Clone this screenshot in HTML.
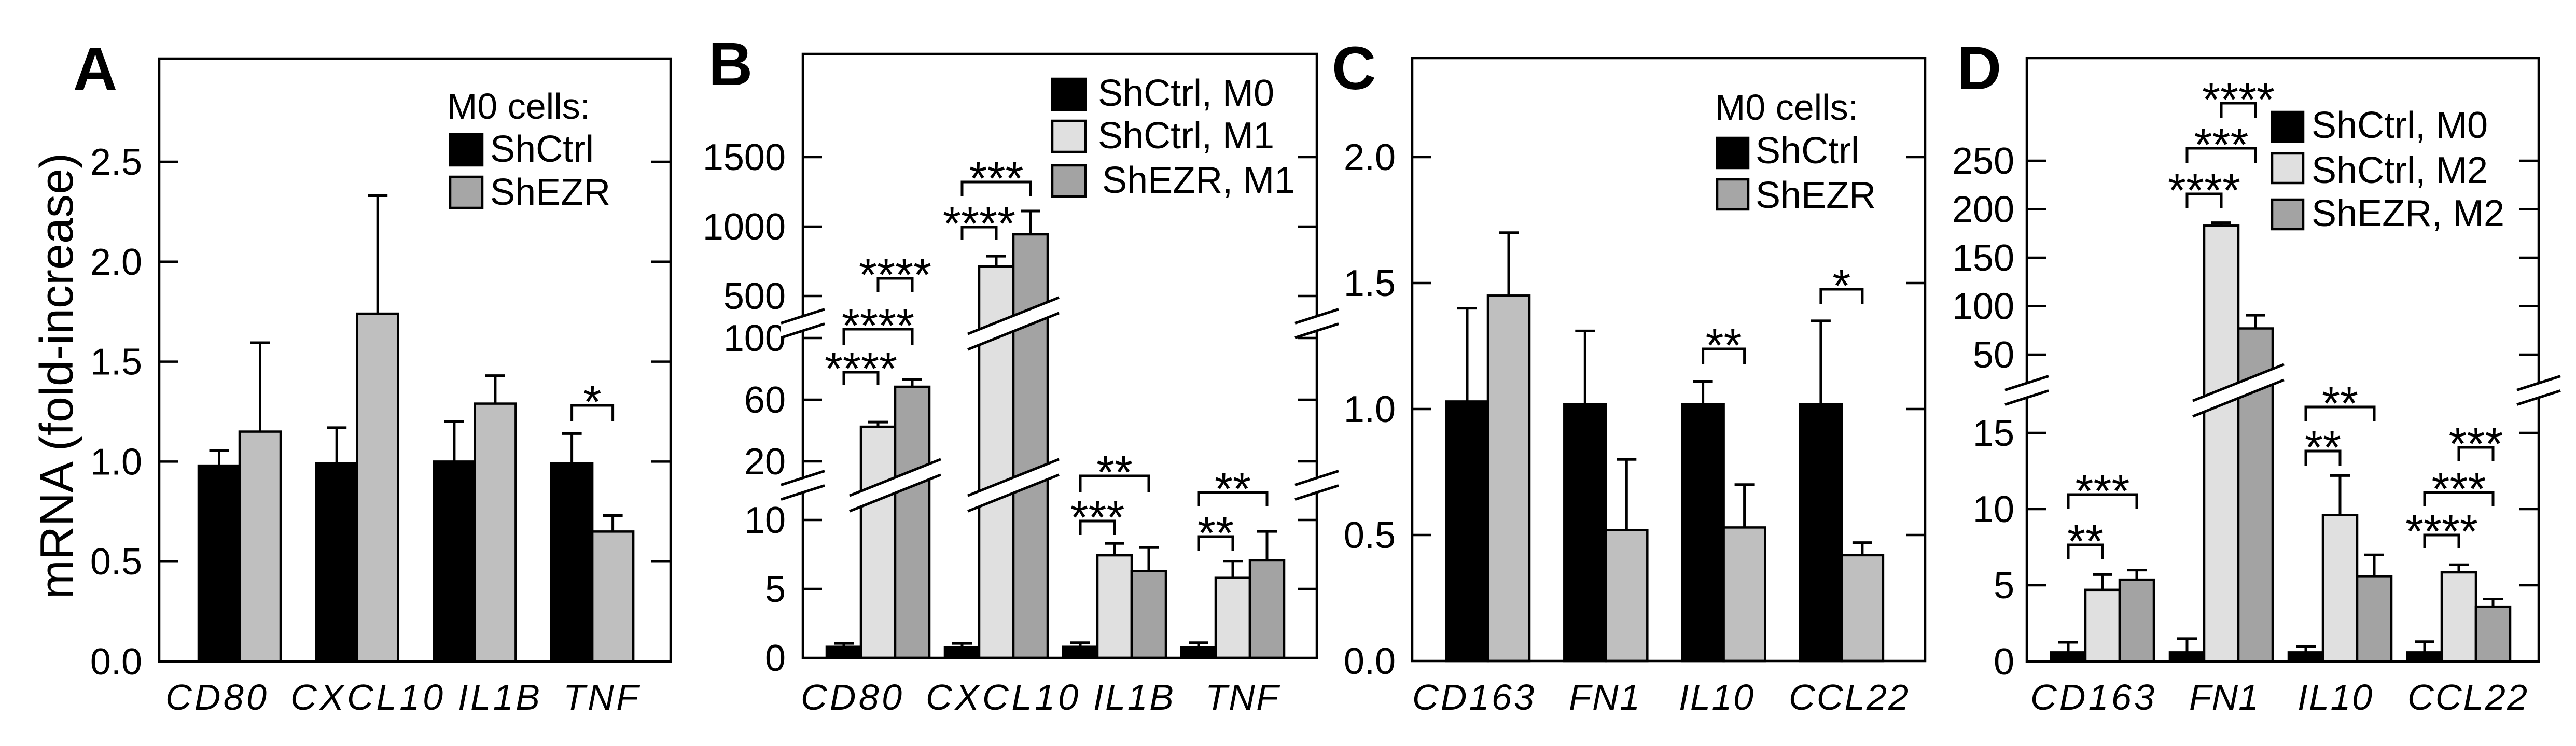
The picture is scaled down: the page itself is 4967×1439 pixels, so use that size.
<!DOCTYPE html>
<html><head><meta charset="utf-8"><style>
html,body{margin:0;padding:0;background:#fff;}
svg{display:block;font-family:"Liberation Sans",Arial,sans-serif;}
</style></head><body>
<svg id="fig" width="4967" height="1439" viewBox="0 0 4967 1439" xmlns="http://www.w3.org/2000/svg">
<rect x="0" y="0" width="4967" height="1439" fill="#fff"/>
</svg>
<script>
// ---------- DATA ----------
const catsAB = ['CD80','CXCL10','IL1B','TNF'];
const catsCD = ['CD163','FN1','IL10','CCL22'];
// Panel A
const A_shCtrl = [0.98, 0.99, 1.00, 0.99];
const A_shCtrlErr = [0.075, 0.18, 0.20, 0.15];
const A_shEzr = [1.15, 1.74, 1.29, 0.65];
const A_shEzrErr = [0.445, 0.59, 0.14, 0.08];
const A_ticks = [0, 0.5, 1.0, 1.5, 2.0, 2.5];
const A_tickLabels = ['0.0','0.5','1.0','1.5','2.0','2.5'];
// Panel B
const B_M0 = [0.8, 0.75, 0.8, 0.75];
const B_M0Err = [0.25, 0.3, 0.3, 0.35];
const B_M1 = [42.5, 713, 7.44, 5.8];
const B_M1Err = [3, 74, 0.86, 1.2];
const B_EZR = [68.4, 944, 6.3, 7.07];
const B_EZRErr = [4.6, 168, 1.7, 2.1];
const B_ticks = [0, 5, 10, 20, 60, 100, 500, 1000, 1500];
const B_tickLabels = ['0','5','10','20','60','100','500','1000','1500'];
// Panel C
const C_shCtrl = [1.03, 1.02, 1.02, 1.02];
const C_shCtrlErr = [0.37, 0.29, 0.09, 0.33];
const C_shEzr = [1.45, 0.52, 0.53, 0.42];
const C_shEzrErr = [0.25, 0.28, 0.17, 0.05];
const C_ticks = [0, 0.5, 1.0, 1.5, 2.0];
const C_tickLabels = ['0.0','0.5','1.0','1.5','2.0'];
// Panel D
const D_M0 = [0.6, 0.6, 0.6, 0.6];
const D_M0Err = [0.66, 0.9, 0.4, 0.7];
const D_M2 = [4.7, 183, 9.6, 5.85];
const D_M2Err = [1.0, 3, 2.6, 0.5];
const D_EZR = [5.37, 77, 5.6, 3.6];
const D_EZRErr = [0.63, 13.6, 1.4, 0.5];
const D_ticks = [0, 5, 10, 15, 50, 100, 150, 200, 250];
const D_tickLabels = ['0','5','10','15','50','100','150','200','250'];
// significance brackets: [group, seriesA, seriesB, topY(px), legY(px), label]
const A_sig = [[3,0,1,782,812,'*']];
const B_sig = [[0,0,1,718,743,'****'],[0,0,2,635,665,'****'],[0,1,2,537,564,'****'],[1,0,1,438,463,'****'],[1,0,2,351,378,'***'],[2,0,1,1005,1032,'***'],[2,0,2,918,950,'**'],[3,0,1,1035,1063,'**'],[3,0,2,950,977,'**']];
const C_sig = [[2,0,1,673,702,'**'],[3,0,1,558,587,'*']];
const D_sig = [[0,0,1,1051,1078,'**'],[0,0,2,954,982,'***'],[1,0,1,374,402,'****'],[1,0,2,286,314,'***'],[1,1,2,199,227,'****'],[2,0,1,870,899,'**'],[2,0,2,785,812,'**'],[3,0,1,1032,1058,'****'],[3,0,2,950,977,'***'],[3,1,2,863,890,'***']];

// ---------- SCALES ----------
function yA(v){ return 1276 - v*385.6; }
function yC(v){ return 1275 - v*486; }
function yB(v){ if(v<=12.5) return 1269 - v*26.6; if(v<300) return 890-(v-20)*2.975; return 571-(v-500)*0.268; }
function yD(v){ if(v<=18) return 1276 - v*29.4; return 684-(v-50)*1.87; }

const NS='http://www.w3.org/2000/svg';
const svg=document.getElementById('fig');
function mk(tag,attrs,parent){ const e=document.createElementNS(NS,tag); for(const k in attrs) e.setAttribute(k,attrs[k]); (parent||svg).appendChild(e); return e; }

const panels=[
 {id:'a',letter:'A',lx:141,box:[307,113,1293,1276],y:yA,ticks:A_ticks,tl:A_tickLabels,tlx:274,
  x0:383,gs:226.7,bw:79,series:[[A_shCtrl,A_shCtrlErr],[A_shEzr,A_shEzrErr]],fills:['#000','#bfbfbf'],
  cats:catsAB,catPos:[[319,195],[560,294],[883,158],[1086,145]],sig:A_sig,breaks:[],
  legend:{title:'M0 cells:',tx:862,ty:229,bx:868,bw:62,bh:60,items:[['ShCtrl','#000',259,312,945],['ShEZR','#a6a6a6',341,395,945]]}},
 {id:'b',letter:'B',lx:1366,box:[1548,104,2539,1269],y:yB,ticks:B_ticks,tl:B_tickLabels,tlx:1515,
  x0:1594,gs:228,bw:66,series:[[B_M0,B_M0Err],[B_M1,B_M1Err],[B_EZR,B_EZRErr]],fills:['#000','#e0e0e0','#a3a3a3'],
  cats:catsAB,catPos:[[1544,195],[1785,294],[2108,155],[2324,141]],sig:B_sig,breaks:[[936,14],[624,300]],
  legend:{tx:0,ty:0,bx:2029,bw:64,bh:60,items:[['ShCtrl, M0','#000',152,204,2117],['ShCtrl, M1','#e0e0e0',233,286,2117],['ShEZR, M1','#a3a3a3',319,372,2125]]}},
 {id:'c',letter:'C',lx:2568,box:[2723,112,3712,1275],y:yC,ticks:C_ticks,tl:C_tickLabels,tlx:2691,
  x0:2789,gs:227.3,bw:80,series:[[C_shCtrl,C_shCtrlErr],[C_shEzr,C_shEzrErr]],fills:['#000','#bfbfbf'],
  cats:catsCD,catPos:[[2723,235],[3025,137],[3237,144],[3449,231]],sig:C_sig,breaks:[],
  legend:{title:'M0 cells:',tx:3307,ty:231,bx:3311,bw:60,bh:58,items:[['ShCtrl','#000',266,315,3385],['ShEZR','#a6a6a6',346,401,3385]]}},
 {id:'d',letter:'D',lx:3774,box:[3908,112,4895,1276],y:yD,ticks:D_ticks,tl:D_tickLabels,tlx:3884,
  x0:3955,gs:229,bw:66,series:[[D_M0,D_M0Err],[D_M2,D_M2Err],[D_EZR,D_EZRErr]],fills:['#000','#e0e0e0','#a3a3a3'],
  cats:catsCD,catPos:[[3915,239],[4221,134],[4430,144],[4642,231]],sig:D_sig,breaks:[[753,18]],
  legend:{tx:0,ty:0,bx:4381,bw:60,bh:57,items:[['ShCtrl, M0','#000',216,266,4457],['ShCtrl, M2','#e0e0e0',296,353,4457],['ShEZR, M2','#a3a3a3',385,436,4457]]}}
];

function band(g,xl,xr,yc,slope,gap,name){
  const dx=(xr-xl)/2;
  const pts=[[xl,yc+slope*dx - gap/2],[xr,yc-slope*dx - gap/2],[xr,yc-slope*dx+gap/2],[xl,yc+slope*dx+gap/2]];
  const p=mk('polygon',{points:pts.map(p=>p.join(',')).join(' '),fill:'#fff',stroke:'none'},g);
  
  
  const l1=mk('line',{x1:xl,y1:pts[0][1],x2:xr,y2:pts[1][1],stroke:'#000','stroke-width':5},g);
  
  
  const l2=mk('line',{x1:xl,y1:pts[3][1],x2:xr,y2:pts[2][1],stroke:'#000','stroke-width':5},g);
  
  
}

panels.forEach(P=>{
  const g=mk('g',{});
  
  
  const [L,T,R,B]=P.box;
  const base=P.y(0);
  P.series.forEach((s,si)=>{
    s[0].forEach((v,gi)=>{
      const x=P.x0+gi*P.gs+si*P.bw;
      const yt=P.y(v);
      const r=mk('rect',{x:x,y:yt,width:P.bw,height:base-yt,fill:P.fills[si],stroke:'#000','stroke-width':4.5},g);
      
      
      const cx=x+P.bw/2, ye=P.y(v+s[1][gi]);
      const e=mk('path',{d:`M${cx},${yt} V${ye} M${cx-19},${ye} H${cx+19}`,stroke:'#000','stroke-width':5,fill:'none'},g);
      
      
    });
  });
  P.breaks.forEach(([by,thr],bi)=>{
    for(let gi=0;gi<4;gi++){
      let first=-1,last=-1;
      P.series.forEach((s,si)=>{ if(s[0][gi]>thr){ if(first<0) first=si; last=si; } });
      if(first<0) continue;
      const xl=P.x0+gi*P.gs+first*P.bw-22, xr=P.x0+gi*P.gs+(last+1)*P.bw+22;
      band(g,xl,xr,by,0.4,30,'bar-break-'+gi+'-'+bi);
    }
  });
  const bx=mk('rect',{x:L,y:T,width:R-L,height:B-T,fill:'none',stroke:'#000','stroke-width':4.5},g);
  
  
  P.ticks.forEach((t,i)=>{
    const y=P.y(t);
    if(t!==0){
      const tk=mk('path',{d:`M${L},${y} H${L+37} M${R},${y} H${R-37}`,stroke:'#000','stroke-width':4.5},g);
      
      
    }
    const tx=mk('text',{x:P.tlx,y:y+25,'text-anchor':'end','font-size':72},g);
    tx.textContent=P.tl[i];
    
    
  });
  P.breaks.forEach(([by],bi)=>{
    band(g,L-42,L+42,by,0.32,28,'axis-break-left');
    band(g,R-42,R+42,by,0.32,28,'axis-break-right');
  });
  P.cats.forEach((c,i)=>{
    const t=mk('text',{x:P.catPos[i][0],y:1369,'font-size':70,'font-style':'italic',textLength:P.catPos[i][1],lengthAdjust:'spacing'},g);
    t.textContent=c;
    
    
  });
  P.sig.forEach(([gi,a,b,ty,ly,lab])=>{
    const xa=P.x0+gi*P.gs+a*P.bw+P.bw/2, xb=P.x0+gi*P.gs+b*P.bw+P.bw/2;
    const p=mk('path',{d:`M${xa},${ly} V${ty} H${xb} V${ly}`,stroke:'#000','stroke-width':5,fill:'none'},g);
    
    
    const t=mk('text',{x:(xa+xb)/2,y:ty+24,'text-anchor':'middle','font-size':90},g);
    t.textContent=lab;
    
    
  });
  const lt=mk('text',{x:P.lx,y:T+60,'font-size':118,'font-weight':'bold'},g);
  lt.textContent=P.letter;
  
  
  const lg=mk('g',{},g);
  
  
  if(P.legend.title){
    const t=mk('text',{x:P.legend.tx,y:P.legend.ty,'font-size':70},lg);
    t.textContent=P.legend.title;
    
    
  }
  P.legend.items.forEach(([lab,fill,sy,tyy,txx])=>{
    const r=mk('rect',{x:P.legend.bx,y:sy,width:P.legend.bw,height:P.legend.bh,fill:fill,stroke:'#000','stroke-width':4.5},lg);
    
    
    const t=mk('text',{x:txx,y:tyy,'font-size':72},lg);
    t.textContent=lab;
    
    
  });
});
const yt=mk('text',{x:0,y:0,'font-size':90,'text-anchor':'middle',transform:'translate(140,725) rotate(-90)'});
yt.textContent='mRNA (fold-increase)';


</script>
</body></html>
